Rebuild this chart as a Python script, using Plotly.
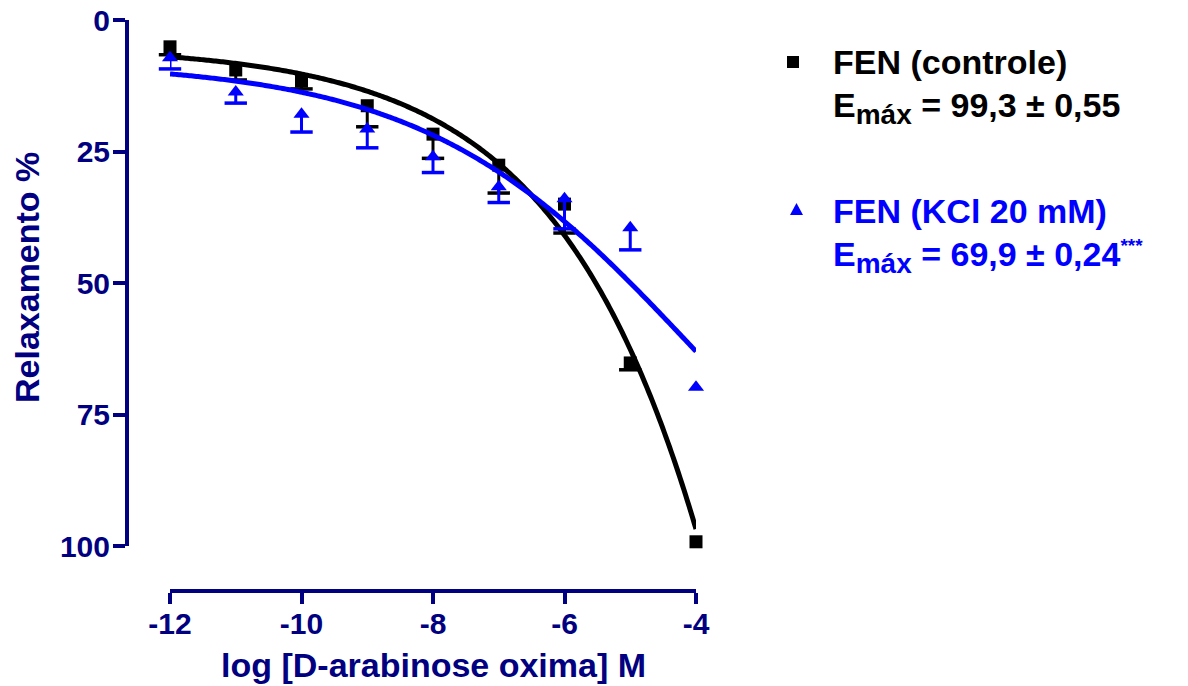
import numpy as np
import plotly.graph_objects as go

# ---------------- data ----------------
log_conc = [-12, -11, -10, -9, -8, -7, -6, -5, -4]
ctrl_mean = [5.1, 9.5, 11.6, 16.3, 21.7, 27.6, 35.0, 65.2, 99.2]
ctrl_sem = [1.5, 1.9, 1.5, 4.0, 4.6, 5.3, 5.5, 1.3, 0.0]
kcl_mean = [7.2, 13.7, 17.9, 20.7, 26.0, 31.7, 34.0, 39.5, 69.8]
kcl_sem = [2.1, 2.1, 3.4, 3.6, 3.0, 3.0, 5.7, 4.2, 0.0]

# fitted sigmoid (bottom, top, logEC50, hill slope)
ctrl_fit = [5.0, 2000.0, 2.27, 0.21]
kcl_fit = [8.0, 118.0, -4.0, 0.21]

x_ticks = [-12, -10, -8, -6, -4]
y_ticks = [0, 25, 50, 75, 100]

SUB = "<sub><span style='font-size:28px'>máx</span></sub>"
ctrl_name = "FEN (controle)"
ctrl_emax = "E" + SUB + " = 99,3 ± 0,55"
kcl_name = "FEN (KCl 20 mM)"
kcl_emax = "E" + SUB + " = 69,9 ± 0,24<sup><span style='font-size:19px'>***</span></sup>"
x_title = "log [D-arabinose oxima] M"
y_title = "Relaxamento %"

# ---------------- styling ----------------
W, H = 1188, 686
NAVY = "#000080"
BLACK = "#000000"
BLUE = "#0000FF"
FONT = "Liberation Sans, Arial, sans-serif"


def px_x(p):
    return p / W


def px_y(p):
    return 1 - p / H


def sigmoid(x, p):
    b, t, c, h = p
    x = np.asarray(x, dtype=float)
    return b + (t - b) / (1 + 10 ** ((c - x) * h))


xs = np.linspace(min(log_conc), max(log_conc), 300)

fig = go.Figure()


def add_series(mean, sem, fit, color, symbol, msize):
    fig.add_trace(go.Scatter(x=xs, y=sigmoid(xs, fit), mode="lines",
                             line=dict(color=color, width=5, simplify=False),
                             showlegend=False, hoverinfo="skip", cliponaxis=False))
    # error stems (one-sided)
    fig.add_trace(go.Scatter(x=log_conc, y=mean, mode="markers",
                             marker=dict(size=1, color="rgba(0,0,0,0)"),
                             error_y=dict(type="data", symmetric=False, array=sem,
                                          arrayminus=[0] * len(sem), width=0,
                                          thickness=3, color=color),
                             showlegend=False, hoverinfo="skip", cliponaxis=False))
    # caps
    cap_y = [m + s if s > 0 else None for m, s in zip(mean, sem)]
    fig.add_trace(go.Scatter(x=log_conc, y=cap_y, mode="markers",
                             marker=dict(symbol="line-ew", size=16,
                                         line=dict(color=color, width=3.5)),
                             showlegend=False, hoverinfo="skip", cliponaxis=False))
    fig.add_trace(go.Scatter(x=log_conc, y=mean, mode="markers",
                             marker=dict(symbol=symbol, size=msize, color=color,
                                         line=dict(width=0)),
                             showlegend=False, cliponaxis=False))


add_series(ctrl_mean, ctrl_sem, ctrl_fit, BLACK, "square", 13)
add_series(kcl_mean, kcl_sem, kcl_fit, BLUE, "triangle-up", 14)

tickfont = dict(family=FONT, size=30, color=NAVY, weight="bold")

fig.update_layout(
    width=W, height=H,
    margin=dict(l=0, r=0, t=0, b=0, autoexpand=False),
    paper_bgcolor="white", plot_bgcolor="white",
    showlegend=False,
    xaxis=dict(domain=[px_x(170), px_x(696)], range=[-12, -4],
               anchor="free", position=px_y(591), automargin=False,
               tickvals=x_ticks, ticktext=[str(v) for v in x_ticks],
               ticks="outside", ticklen=11, tickwidth=4, tickcolor=NAVY,
               ticklabelstandoff=-6,
               showline=True, linewidth=4, linecolor=NAVY,
               showgrid=False, zeroline=False, tickfont=tickfont),
    yaxis=dict(domain=[px_y(546), px_y(20)], range=[100, 0],
               anchor="free", position=px_x(127), automargin=False,
               tickvals=y_ticks, ticktext=[str(v) for v in y_ticks],
               ticks="outside", ticklen=12, tickwidth=4, tickcolor=NAVY,
               ticklabelstandoff=-3,
               showline=True, linewidth=4, linecolor=NAVY,
               showgrid=False, zeroline=False, tickfont=tickfont),
)

title_font = dict(family=FONT, size=34, color=NAVY, weight="bold")
fig.add_annotation(x=px_x(433), y=px_y(665), xref="paper", yref="paper",
                   text=x_title, showarrow=False, font=title_font,
                   xanchor="center", yanchor="middle")
fig.add_annotation(x=px_x(27), y=px_y(278), xref="paper", yref="paper",
                   text=y_title, showarrow=False, font=title_font, textangle=-90,
                   xanchor="center", yanchor="middle")

leg_black = dict(family=FONT, size=34, color=BLACK, weight="bold")
leg_blue = dict(family=FONT, size=34, color=BLUE, weight="bold")
for txt, yy, f in [(ctrl_name, 62, leg_black), (ctrl_emax, 108, leg_black),
                   (kcl_name, 211, leg_blue), (kcl_emax, 257, leg_blue)]:
    fig.add_annotation(x=px_x(831), y=px_y(yy), xref="paper", yref="paper",
                       text=txt, showarrow=False, font=f,
                       xanchor="left", yanchor="middle")

# legend symbols
fig.add_shape(type="rect", xref="paper", yref="paper",
              x0=px_x(787), x1=px_x(799), y0=px_y(68), y1=px_y(56),
              fillcolor=BLACK, line=dict(width=0))
fig.add_shape(type="path", xref="paper", yref="paper",
              path="M {} {} L {} {} L {} {} Z".format(px_x(790), px_y(215), px_x(803), px_y(215),
                                                      px_x(796.5), px_y(203)),
              fillcolor=BLUE, line=dict(width=0))

fig.write_html("out.html", config={"displayModeBar": False},
               post_script="document.body.style.margin='0';")
